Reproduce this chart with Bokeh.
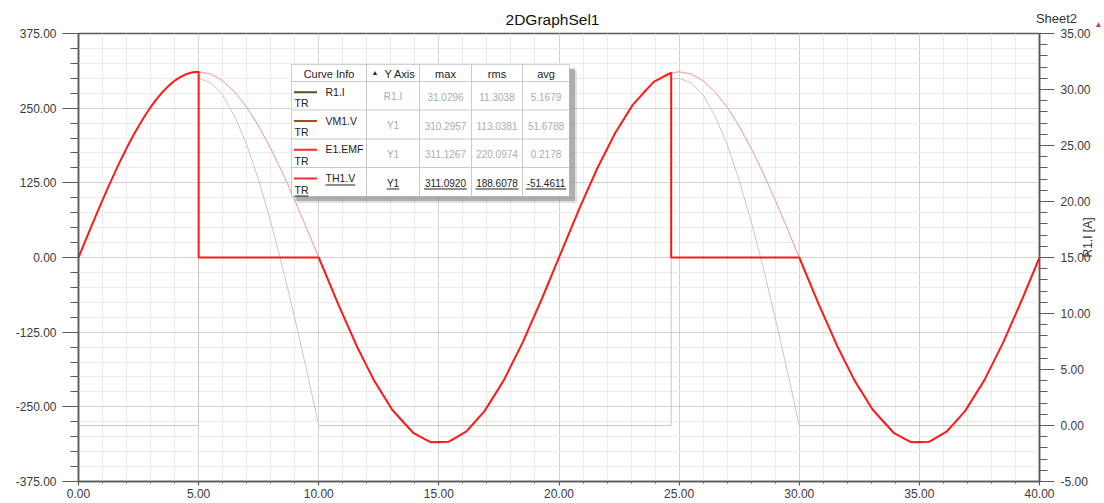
import math
from bokeh.plotting import figure
from bokeh.models import (Range1d, LinearAxis, FixedTicker, PrintfTickFormatter,
                          Label, BoxAnnotation)
from bokeh.embed import file_html
from bokeh.resources import INLINE

# ---------------- data ----------------
x_ticks = [0, 5, 10, 15, 20, 25, 30, 35, 40]
y_ticks = [-375, -250, -125, 0, 125, 250, 375]
y2_ticks = [-5, 0, 5, 10, 15, 20, 25, 30, 35]

# E1.EMF  (source voltage, Y1)
emf_t = [0.0, 0.5, 1.0, 1.5, 2.0, 2.5, 3.0, 3.5, 4.0, 4.5, 5.0, 5.5, 6.0, 6.5, 7.0, 7.5, 8.0, 8.5, 9.0, 9.5,
         10.0, 10.5, 11.0, 11.5, 12.0, 12.5, 13.0, 13.5, 14.0, 14.5, 15.0, 15.5, 16.0, 16.5, 17.0, 17.5, 18.0, 18.5, 19.0, 19.5,
         20.0, 20.5, 21.0, 21.5, 22.0, 22.5, 23.0, 23.5, 24.0, 24.5, 25.0, 25.5, 26.0, 26.5, 27.0, 27.5, 28.0, 28.5, 29.0, 29.5,
         30.0, 30.5, 31.0, 31.5, 32.0, 32.5, 33.0, 33.5, 34.0, 34.5, 35.0, 35.5, 36.0, 36.5, 37.0, 37.5, 38.0, 38.5, 39.0, 39.5, 40.0]
emf_v = [0.0, 48.7, 96.1, 141.2, 182.8, 219.9, 251.6, 277.1, 295.8, 307.2, 311.1, 307.2, 295.8, 277.1, 251.6, 219.9, 182.8, 141.2, 96.1, 48.7,
         0.0, -48.7, -96.1, -141.2, -182.8, -219.9, -251.6, -277.1, -295.8, -307.2, -311.1, -307.2, -295.8, -277.1, -251.6, -219.9, -182.8, -141.2, -96.1, -48.7,
         0.0, 48.7, 96.1, 141.2, 182.8, 219.9, 251.6, 277.1, 295.8, 307.2, 311.1, 307.2, 295.8, 277.1, 251.6, 219.9, 182.8, 141.2, 96.1, 48.7,
         0.0, -48.7, -96.1, -141.2, -182.8, -219.9, -251.6, -277.1, -295.8, -307.2, -311.1, -307.2, -295.8, -277.1, -251.6, -219.9, -182.8, -141.2, -96.1, -48.7, 0.0]

# TH1.V  (thyristor voltage, Y1)
th1_t = [0.0, 0.25, 0.5, 0.75, 1.0, 1.25, 1.5, 1.75, 2.0, 2.25, 2.5, 2.75, 3.0, 3.25, 3.5, 3.75, 4.0, 4.25, 4.5, 4.75,
         5.0, 5.0, 10.0,
         10.8, 11.6, 12.3, 13.05, 13.95, 14.65, 15.4, 16.15, 16.9, 17.7, 18.5, 19.3,
         20.1, 20.9, 21.6, 22.35, 23.07, 23.94, 24.67, 24.67, 30.0,
         30.8, 31.6, 32.3, 33.05, 33.95, 34.65, 35.4, 36.15, 36.9, 37.7, 38.5, 39.3, 40.0]
th1_v = [0.0, 24.4, 48.7, 72.6, 96.1, 119.0, 141.2, 162.5, 182.8, 202.0, 219.9, 236.5, 251.6, 265.2, 277.1, 287.3, 295.8, 302.4, 307.2, 310.1,
         311.1, 0.0, 0.0,
         -77.3, -149.8, -205.7, -254.4, -294.2, -309.1, -308.5, -290.9, -257.2, -205.7, -141.2, -67.8,
         9.8, 86.8, 149.8, 209.3, 255.5, 293.9, 309.3, 0.0, 0.0,
         -77.3, -149.8, -205.7, -254.4, -294.2, -309.1, -308.5, -290.9, -257.2, -205.7, -141.2, -67.8, 0.0]

# VM1.V  (load voltage, Y1)
vm1_t = [0.0, 5.0, 5.0, 5.5, 6.0, 6.5, 7.0, 7.5, 8.0, 8.5, 9.0, 9.5, 10.0,
         24.67, 24.67, 25.0, 25.5, 26.0, 26.5, 27.0, 27.5, 28.0, 28.5, 29.0, 29.5, 30.0, 40.0]
vm1_v = [0.0, 0.0, 310.3, 307.2, 295.8, 277.1, 251.6, 219.9, 182.8, 141.2, 96.1, 48.7, 0.0,
         0.0, 309.3, 310.3, 307.2, 295.8, 277.1, 251.6, 219.9, 182.8, 141.2, 96.1, 48.7, 0.0, 0.0]

# R1.I  (load current, right axis)
r1_t = [0.0, 5.0, 5.0, 5.5, 6.0, 6.5, 7.0, 7.5, 8.0, 8.5, 9.0, 9.5, 10.0,
        24.67, 24.67, 25.0, 25.5, 26.0, 26.5, 27.0, 27.5, 28.0, 28.5, 29.0, 29.5, 30.0, 40.0]
r1_v = [0.0, 0.0, 31.0, 30.6, 29.5, 27.6, 25.1, 21.9, 18.2, 14.1, 9.6, 4.9, 0.0,
        0.0, 30.9, 31.0, 30.6, 29.5, 27.6, 25.1, 21.9, 18.2, 14.1, 9.6, 4.9, 0.0, 0.0]

# Curve-info table
curve_names = ["R1.I", "VM1.V", "E1.EMF", "TH1.V"]
curve_axes = ["R1.I", "Y1", "Y1", "Y1"]
max_vals = ["31.0296", "310.2957", "311.1267", "311.0920"]
rms_vals = ["11.3038", "113.0381", "220.0974", "188.6078"]
avg_vals = ["5.1679", "51.6788", "0.2178", "-51.4611"]
legend_colors = ["#4e5424", "#a0501e", "#ff2a2a", "#ff2a2a"]

# ---------------- figure ----------------
FONT = "Liberation Sans"
W, H = 1104, 503
BL, BR, BT, BB = 78, 65, 33, 22
FW, FH = W - BL - BR, H - BT - BB

p = figure(width=W, height=H, output_backend="svg", toolbar_location=None, title=None,
           x_range=Range1d(0, 40), y_range=Range1d(-375, 375),
           min_border_left=BL, min_border_right=BR, min_border_top=BT, min_border_bottom=BB,
           background_fill_color="white", border_fill_color="white",
           outline_line_color="#5a5a5a", outline_line_width=1.5)
p.extra_y_ranges = {"r": Range1d(-5, 35)}

fmt = PrintfTickFormatter(format="%.2f")
xt = FixedTicker(ticks=x_ticks, minor_ticks=[v for v in range(0, 41)])
yt = FixedTicker(ticks=y_ticks, minor_ticks=[v for v in range(-375, 376, 25)])
y2t = FixedTicker(ticks=y2_ticks, minor_ticks=[v for v in range(-5, 36)])

def style_axis(ax, tick_out, minor_out, standoff, size="12px"):
    ax.formatter = fmt
    ax.major_tick_out = tick_out
    ax.major_tick_in = 0
    ax.minor_tick_out = minor_out
    ax.minor_tick_in = 0
    ax.major_label_standoff = standoff
    ax.axis_line_color = "#5a5a5a"
    ax.axis_line_width = 1.5
    ax.major_tick_line_color = "#5a5a5a"
    ax.major_tick_line_width = 1.2
    ax.minor_tick_line_color = "#5a5a5a"
    ax.major_label_text_font = FONT
    ax.major_label_text_font_size = size
    ax.major_label_text_color = "#3a3a3a"

xa = p.xaxis[0]
xa.ticker = xt
style_axis(xa, 4, 2, 3)
ya = p.yaxis[0]
ya.ticker = yt
style_axis(ya, 16, 8, 6)
ra = LinearAxis(y_range_name="r", ticker=y2t)
style_axis(ra, 15, 8, 6)
ra.axis_label = "R1.I [A]"
ra.axis_label_standoff = -6
ra.axis_label_orientation = math.pi / 2
ra.axis_label_text_font = FONT
ra.axis_label_text_font_size = "12px"
ra.axis_label_text_font_style = "normal"
ra.axis_label_text_color = "#333333"
p.add_layout(ra, "right")

for g, t in ((p.xgrid[0], xt), (p.ygrid[0], yt)):
    g.ticker = t
    g.grid_line_color = "#d3d3d3"
    g.grid_line_width = 1
    g.minor_grid_line_color = "#ebebeb"
    g.minor_grid_line_width = 1

# ---------------- curves ----------------
p.line(vm1_t, vm1_v, line_color="#e4cfc6", line_width=1)
p.line(r1_t, r1_v, y_range_name="r", line_color="#c8c8bd", line_width=1)
p.line(emf_t, emf_v, line_color="#f2a3a3", line_width=1)
p.line(th1_t, th1_v, line_color="#ff1a1a", line_width=2)

# ---------------- helpers for screen-placed decorations ----------------
def sx(X):
    return X - BL

def sy(Y):
    return (BT + FH) - Y

def box(x0, y0, x1, y1, fill, alpha=1.0, line=None):
    p.add_layout(BoxAnnotation(left=sx(x0), right=sx(x1), top=sy(y0), bottom=sy(y1),
                               left_units="screen", right_units="screen",
                               top_units="screen", bottom_units="screen",
                               fill_color=fill, fill_alpha=alpha,
                               line_color=line, line_width=1, level="overlay"))

def lab(x, y, text, size="10px", color="#222222", align="left"):
    p.add_layout(Label(x=sx(x), y=sy(y), x_units="screen", y_units="screen", text=text,
                       text_font=FONT, text_font_size=size, text_color=color,
                       text_align=align, text_baseline="middle", level="overlay"))

def side_lab(place, x, y, text, size, color, align="center"):
    p.add_layout(Label(x=x, y=y, x_units="screen", y_units="screen", text=text,
                       text_font=FONT, text_font_size=size, text_color=color,
                       text_align=align, text_baseline="middle"), place)

CW = {c: 5.56 for c in "0123456789"}
CW.update({".": 2.78, "-": 3.33, "Y": 6.67, "T": 6.11, "R": 7.22, "H": 7.22, "V": 6.67, "1": 5.56})

def text_w(s, size):
    return sum(CW.get(c, 5.56) for c in s) * size / 10.0

# ---------------- curve info table ----------------
cols = [291, 366, 419, 471, 522, 569]
rows = [64, 81, 109.5, 138.5, 167, 196]
box(295, 68, 574.5, 200.5, "#7a7a7a", 0.55)
box(297, 70, 576.5, 202.5, "#9a9a9a", 0.3)
box(cols[0], rows[0], cols[-1], rows[-1], "white", 1.0, "#6a6a6a")
for cx in cols[1:-1]:
    box(cx - 0.5, rows[0] + 0.5, cx + 0.5, rows[-1] - 0.5, "#c9c9c9")
for ry in rows[1:-1]:
    box(cols[0] + 0.5, ry - 0.5, cols[-1] - 0.5, ry + 0.5, "#c9c9c9")

hy = (rows[0] + rows[1]) / 2 + 0.5
lab((cols[0] + cols[1]) / 2, hy, "Curve Info", "11px", align="center")
lab(371, hy - 1, "▲", "7px", align="left")
lab(399.5, hy, "Y Axis", "11px", align="center")
lab((cols[2] + cols[3]) / 2, hy, "max", "11px", align="center")
lab((cols[3] + cols[4]) / 2, hy, "rms", "11px", align="center")
lab((cols[4] + cols[5]) / 2, hy, "avg", "11px", align="center")

for i in range(4):
    c = (rows[i + 1] + rows[i + 2]) / 2
    sel = (i == 3)
    vc = "#222222" if sel else "#ababab"
    box(293.5, c - 4.5, 316.5, c - 2.5, legend_colors[i])
    lab(325, c - 4, curve_names[i], "10.5px")
    lab(294, c + 7.5, "TR", "10.5px")
    centers = [392.5, (cols[2] + cols[3]) / 2, (cols[3] + cols[4]) / 2, (cols[4] + cols[5]) / 2]
    texts = [curve_axes[i], max_vals[i], rms_vals[i], avg_vals[i]]
    for cx, tx in zip(centers, texts):
        lab(cx, c + 1, tx, "10px", color=vc, align="center")
        if sel:
            w = text_w(tx, 10.3)
            box(cx - w / 2, c + 6.5, cx + w / 2, c + 7.5, "#222222")
    if sel:
        wn = text_w(curve_names[i], 10.5)
        box(325, c + 2.5, 325 + wn, c + 3.5, "#222222")
        box(294, c + 13.5, 294 + text_w("TR", 10.5), c + 14.5, "#222222")

# ---------------- texts outside the frame (side panels) ----------------
side_lab("above", 552 - BL, BT - 19, "2DGraphSel1", "15.5px", "#111111")
side_lab("above", 1056 - BL, -2, "Sheet2", "13px", "#333333")
side_lab("left", 1094, FH + BT - 24, "▲", "8px", "#d9342b")

open("out.html", "w").write(file_html(p, INLINE))
